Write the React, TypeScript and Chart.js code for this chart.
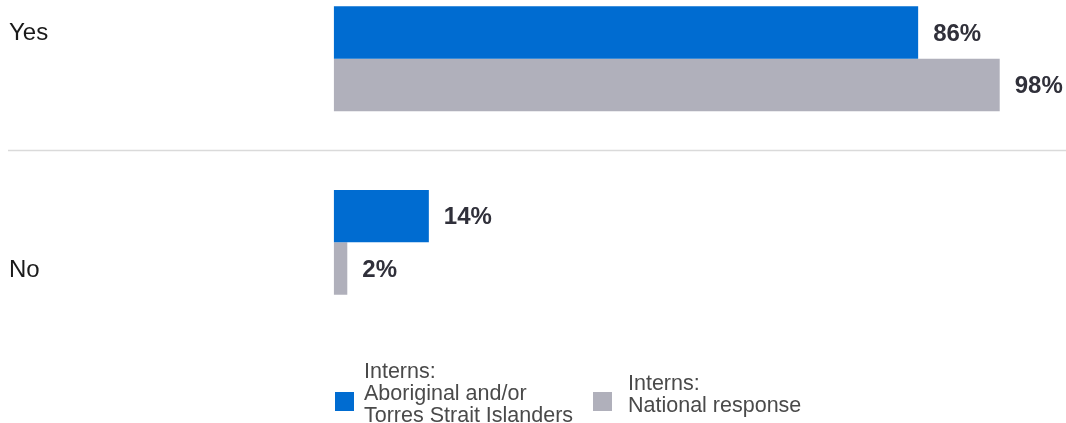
import React, { useEffect, useRef } from "react";
import { Chart, registerables } from "chart.js";

Chart.register(...registerables);

const categories = ["Yes", "No"];
const seriesNames = [
  ["Interns:", "Aboriginal and/or", "Torres Strait Islanders"],
  ["Interns:", "National response"],
];
const aboriginalValues = [86, 14];
const nationalValues = [98, 2];
const seriesColors = ["#006CD1", "#B0B0BB"];

const FONT = "'Liberation Sans', Arial, Helvetica, sans-serif";
const CANVAS_TOP = -33;

const decorPlugin = {
  id: "decor",
  afterDatasetsDraw(chart: any) {
    const ctx = chart.ctx;
    const y = chart.scales.y;
    ctx.save();
    // separator line between categories
    const mid = (y.getPixelForValue(0) + y.getPixelForValue(1)) / 2;
    ctx.strokeStyle = "#dadada";
    ctx.lineWidth = 1.5;
    ctx.beginPath();
    ctx.moveTo(8, Math.round(mid) - 0.5);
    ctx.lineTo(chart.width, Math.round(mid) - 0.5);
    ctx.stroke();
    // category labels
    ctx.font = `24px ${FONT}`;
    ctx.fillStyle = "#1a1a1a";
    ctx.textBaseline = "middle";
    ctx.textAlign = "left";
    const offsets = [-25, 28];
    categories.forEach((c, i) => {
      ctx.fillText(c, 9, y.getPixelForValue(i) + offsets[i]);
    });
    // value labels
    ctx.font = `bold 24px ${FONT}`;
    ctx.fillStyle = "#30303a";
    chart.data.datasets.forEach((ds: any, di: number) => {
      const meta = chart.getDatasetMeta(di);
      meta.data.forEach((bar: any, i: number) => {
        ctx.fillText(`${ds.data[i]}%`, bar.x + 15, bar.y + 1.5);
      });
    });
    ctx.restore();
  },
};

export default function App() {
  const ref = useRef<HTMLCanvasElement>(null);
  useEffect(() => {
    const chart = new Chart(ref.current!, {
      type: "bar",
      data: {
        labels: categories,
        datasets: [
          {
            label: seriesNames[0].join(" "),
            data: aboriginalValues,
            backgroundColor: seriesColors[0],
            barPercentage: 1,
            categoryPercentage: 0.5714,
          },
          {
            label: seriesNames[1].join(" "),
            data: nationalValues,
            backgroundColor: seriesColors[1],
            barPercentage: 1,
            categoryPercentage: 0.5714,
          },
        ],
      },
      options: {
        indexAxis: "y",
        responsive: false,
        animation: false,
        layout: { padding: { left: 333.7, right: 52.7, top: 0, bottom: 88.9 } },
        plugins: { legend: { display: false }, tooltip: { enabled: false } },
        scales: {
          x: { display: false, min: 0, max: 100 },
          y: { display: false },
        },
      },
      plugins: [decorPlugin],
    });
    return () => chart.destroy();
  }, []);

  const legendText: React.CSSProperties = {
    position: "absolute",
    fontFamily: FONT,
    fontSize: 21.5,
    lineHeight: "22px",
    color: "#4a4a4a",
    whiteSpace: "nowrap",
  };

  return (
    <div
      style={{
        position: "absolute",
        left: 0,
        top: 0,
        width: 1066,
        height: 423,
        overflow: "hidden",
        background: "#fff",
      }}
    >
      <canvas
        ref={ref}
        width={1066}
        height={456}
        style={{ position: "absolute", left: 0, top: CANVAS_TOP, width: 1066, height: 456 }}
      />
      <div style={{ position: "absolute", left: 335, top: 392, width: 19, height: 19, background: seriesColors[0] }} />
      <div style={{ ...legendText, left: 364, top: 360 }}>
        {seriesNames[0].map((l, i) => (
          <div key={i}>{l}</div>
        ))}
      </div>
      <div style={{ position: "absolute", left: 593, top: 392, width: 19, height: 19, background: seriesColors[1] }} />
      <div style={{ ...legendText, left: 628, top: 372 }}>
        {seriesNames[1].map((l, i) => (
          <div key={i}>{l}</div>
        ))}
      </div>
    </div>
  );
}
